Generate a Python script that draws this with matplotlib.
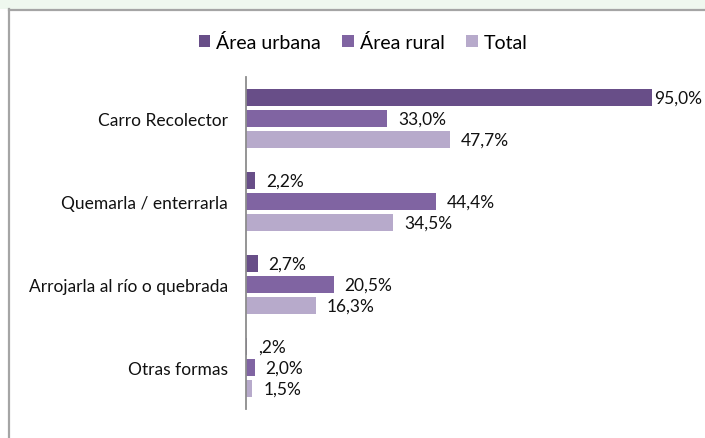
import numpy as np
import matplotlib.pyplot as plt
from matplotlib.patches import Rectangle

categories = ["Carro Recolector", "Quemarla / enterrarla",
              "Arrojarla al río o quebrada", "Otras formas"]
series_names = ["Área urbana", "Área rural", "Total"]
urbana = [95.0, 2.2, 2.7, 0.2]
rural = [33.0, 44.4, 20.5, 2.0]
total = [47.7, 34.5, 16.3, 1.5]
value_labels = [
    ["95,0%", "2,2%", "2,7%", ",2%"],
    ["33,0%", "44,4%", "20,5%", "2,0%"],
    ["47,7%", "34,5%", "16,3%", "1,5%"],
]
colors = ["#684e88", "#8064a2", "#b7aacb"]

plt.rcParams['font.family'] = ['Lato', 'DejaVu Sans']

fig = plt.figure(figsize=(7.05, 4.39), dpi=100)

# page background strip and chart frame
fig.patches.append(Rectangle((0, 1 - 10 / 439), 1, 10 / 439, transform=fig.transFigure,
                             facecolor="#eff8ef", edgecolor="none", zorder=0))
fig.lines.append(plt.Line2D([8.5 / 705, 8.5 / 705], [0, 1 - 10 / 439], transform=fig.transFigure,
                            color="#a5a5a5", lw=1.6))
fig.lines.append(plt.Line2D([8.5 / 705, 1], [1 - 10.5 / 439, 1 - 10.5 / 439], transform=fig.transFigure,
                            color="#a5a5a5", lw=1.6))

ax = fig.add_axes([246 / 705, 1 - 410 / 439, (673 - 246) / 705, (410 - 78) / 439])

y = np.arange(len(categories))
step = 0.253
height = 0.205
data = [urbana, rural, total]
bars = []
for i, vals in enumerate(data):
    b = ax.barh(y + (i - 1) * step, vals, height=height, color=colors[i], label=series_names[i])
    bars.append(b)
    for j, v in enumerate(vals):
        pad = 0.6 if v > 90 else 2.6
        ax.text(v + pad, y[j] + (i - 1) * step, value_labels[i][j],
                va="center", ha="left", fontsize=12.5, color="#111111")

ax.set_xlim(0, 100)
ax.set_ylim(len(categories) - 0.5, -0.5)
ax.set_yticks(y)
ax.set_yticklabels(categories, fontsize=12.5, color="#111111")
ax.tick_params(axis="y", length=0, pad=13)
ax.set_xticks([])
for s in ["top", "right", "bottom"]:
    ax.spines[s].set_visible(False)
ax.spines["left"].set_color("#8c8c8c")
ax.spines["left"].set_linewidth(1.3)

fig.legend(handles=bars, labels=series_names, loc="center", bbox_to_anchor=(0.515, 1 - 43 / 439),
           ncol=3, frameon=False, fontsize=14, handlelength=0.6, handleheight=0.6,
           handletextpad=0.3, columnspacing=1.1)

fig.savefig("out.png", dpi=100)
